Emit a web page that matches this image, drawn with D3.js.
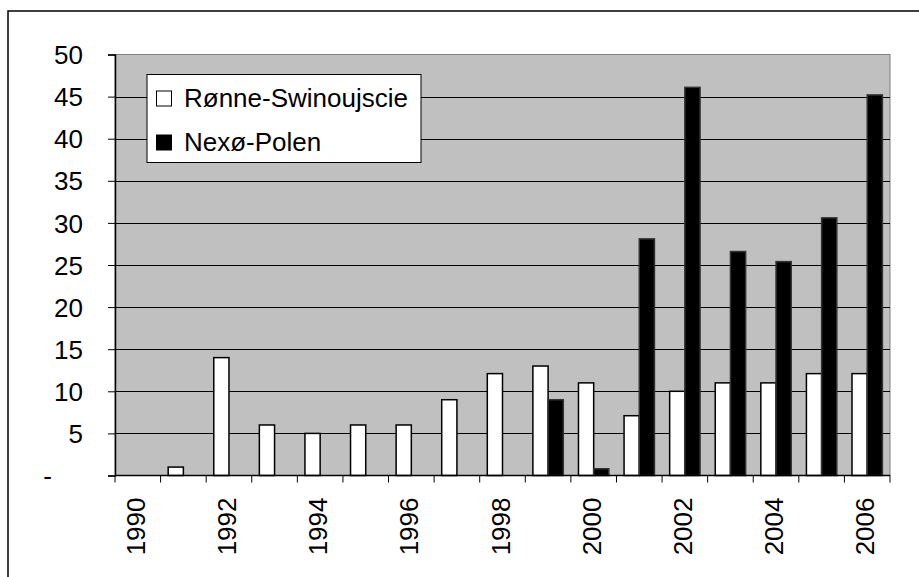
<!DOCTYPE html>
<html>
<head>
<meta charset="utf-8">
<script src="https://cdn.jsdelivr.net/npm/d3@7"></script>
<style>
  html, body { margin: 0; padding: 0; background: #fff; }
  svg { display: block; font-family: "Liberation Sans", Arial, sans-serif; }
</style>
</head>
<body>
<svg id="chart" width="919" height="577"></svg>
<script>
const years = [1990,1991,1992,1993,1994,1995,1996,1997,1998,1999,2000,2001,2002,2003,2004,2005,2006];
const ronneSwinoujscie = [0, 1, 14, 6, 5, 6, 6, 9, 12.1, 13, 11, 7.1, 10, 11, 11, 12.1, 12.1];
const nexoPolen        = [0, 0, 0, 0, 0, 0, 0, 0, 0, 9, 0.8, 28.1, 46.1, 26.6, 25.4, 30.6, 45.2];
const seriesNames = ["Rønne-Swinoujscie", "Nexø-Polen"];
const yTicks = [0, 5, 10, 15, 20, 25, 30, 35, 40, 45, 50];
const xLabelYears = [1990,1992,1994,1996,1998,2000,2002,2004,2006];

const svg = d3.select("#chart");
const plot = {left: 115, right: 890, top: 54.5, bottom: 475.5};

// outer frame (extends beyond window)
svg.append("rect").attr("x", 8).attr("y", 11).attr("width", 1200).attr("height", 1200)
  .attr("fill", "#fff").attr("stroke", "#000").attr("stroke-width", 1.5);

const x = d3.scaleBand().domain(years).range([plot.left, plot.right]).paddingInner(0).paddingOuter(0);
const y = d3.scaleLinear().domain([0, 50]).range([plot.bottom, plot.top]);

// plot background
svg.append("rect").attr("x", plot.left).attr("y", plot.top)
  .attr("width", plot.right - plot.left).attr("height", plot.bottom - plot.top)
  .attr("fill", "#c0c0c0").attr("stroke", "#808080").attr("stroke-width", 1);

// gridlines
svg.append("g").selectAll("line").data(yTicks.filter(d => d > 0 && d < 50)).join("line")
  .attr("x1", plot.left).attr("x2", plot.right)
  .attr("y1", d => Math.round(y(d)) + 0.5).attr("y2", d => Math.round(y(d)) + 0.5)
  .attr("stroke", "#000").attr("stroke-width", 1);

// bars
const bw = x.bandwidth();
const barW = bw / 3;
const series = [
  {name: seriesNames[0], values: ronneSwinoujscie, fill: "#fff", stroke: "#000", off: bw / 6},
  {name: seriesNames[1], values: nexoPolen, fill: "#000", stroke: "#333", off: bw / 6 + barW}
];
series.forEach(s => {
  svg.append("g").selectAll("rect").data(years.map((yr, i) => ({yr, v: s.values[i]})).filter(d => d.v > 0))
    .join("rect")
    .attr("x", d => x(d.yr) + s.off)
    .attr("y", d => y(d.v))
    .attr("width", barW)
    .attr("height", d => y(0) - y(d.v))
    .attr("fill", s.fill).attr("stroke", s.stroke).attr("stroke-width", 1.5);
});

// y axis
const yAxis = d3.axisLeft(y).tickValues(yTicks).tickSize(7).tickFormat(d => d === 0 ? "-" : d);
const gy = svg.append("g").attr("transform", `translate(${plot.left},0)`).call(yAxis);
gy.select(".domain").attr("stroke", "#000").attr("stroke-width", 1.5);
gy.selectAll(".tick line").attr("stroke", "#000");
gy.selectAll(".tick text").attr("font-size", 26).attr("fill", "#000")
  .attr("font-family", "Liberation Sans, Arial, sans-serif")
  .attr("x", d => d === 0 ? -63 : -32).attr("dy", "0.35em");

// x axis
const gx = svg.append("g").attr("transform", `translate(0,${plot.bottom})`);
gx.append("line").attr("x1", plot.left).attr("x2", plot.right).attr("y1", 0).attr("y2", 0)
  .attr("stroke", "#000").attr("stroke-width", 1.5);
const bounds = years.map(yr => x(yr)).concat([plot.right]);
gx.selectAll("line.tk").data(bounds).join("line").attr("class", "tk")
  .attr("x1", d => d).attr("x2", d => d).attr("y1", 0).attr("y2", 7)
  .attr("stroke", "#000");
gx.selectAll("text").data(xLabelYears).join("text")
  .attr("transform", d => `translate(${x(d) + bw / 2 + 7},${22}) rotate(-90)`)
  .attr("text-anchor", "end")
  .attr("font-size", 26).attr("fill", "#000")
  .text(d => d);

// legend
const lg = svg.append("g");
lg.append("rect").attr("x", 147).attr("y", 74.5).attr("width", 274).attr("height", 88)
  .attr("fill", "#fff").attr("stroke", "#000").attr("stroke-width", 1);
const legendRows = [
  {name: seriesNames[0], fill: "#fff", stroke: "#000", y: 91},
  {name: seriesNames[1], fill: "#000", stroke: "#000", y: 135}
];
legendRows.forEach(r => {
  lg.append("rect").attr("x", 156.5).attr("y", r.y).attr("width", 15).attr("height", 15)
    .attr("fill", r.fill).attr("stroke", r.stroke).attr("stroke-width", 1);
  lg.append("text").attr("x", 184).attr("y", r.y + 16).attr("font-size", 26).attr("fill", "#000")
    .text(r.name);
});
</script>
</body>
</html>
